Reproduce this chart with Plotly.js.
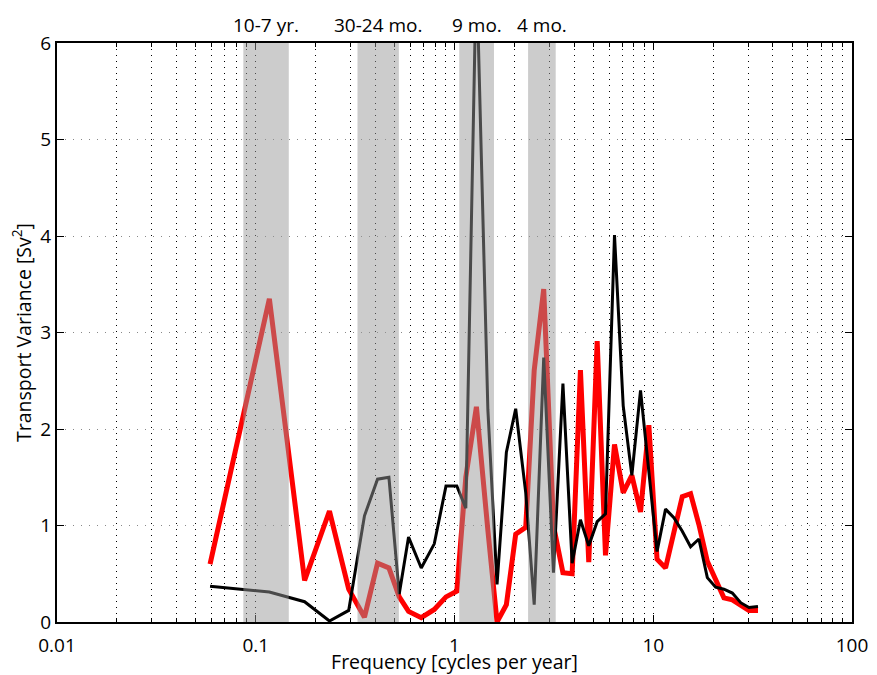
<!DOCTYPE html>
<html>
<head>
<meta charset="utf-8">
<script src="https://cdn.plot.ly/plotly-3.0.1.min.js"></script>
<style>html,body{margin:0;padding:0;background:#fff;}#chart{width:877px;height:675px;}</style>
</head>
<body>
<div id="chart"></div>
<script>
// Frequencies (cycles per year) and transport variance (Sv^2)
const freqBlack = [0.0589, 0.1171, 0.1761, 0.2349, 0.2935, 0.3524, 0.4100, 0.4677, 0.5271, 0.5873,
  0.6804, 0.7911, 0.9062, 1.027, 1.140, 1.289, 1.472, 1.637, 1.824, 2.032,
  2.282, 2.518, 2.811, 3.147, 3.512, 3.907, 4.302, 4.737, 5.222, 5.751,
  6.383, 7.062, 7.803, 8.630, 10.45, 11.53, 12.70, 14.00, 15.41, 16.97,
  18.71, 20.60, 22.68, 25.00, 27.54, 30.31, 33.65];
const varBlack = [0.37, 0.31, 0.21, 0.01, 0.12, 1.10, 1.48, 1.50, 0.29, 0.88,
  0.56, 0.81, 1.41, 1.41, 1.18, 6.8, 2.2, 0.39, 1.76, 2.21,
  1.34, 0.18, 2.74, 0.51, 2.47, 0.61, 1.06, 0.79, 1.04, 1.12,
  4.01, 2.24, 1.52, 2.40, 0.73, 1.17, 1.08, 0.94, 0.78, 0.86,
  0.46, 0.36, 0.34, 0.30, 0.20, 0.15, 0.16];

const freqRed = [0.0589, 0.1171, 0.1761, 0.2349, 0.2935, 0.3524, 0.4100, 0.4677, 0.5271, 0.5873,
  0.6804, 0.7911, 0.9062, 1.027, 1.140, 1.289, 1.472, 1.637, 1.824, 2.032,
  2.282, 2.518, 2.811, 3.147, 3.512, 3.907, 4.302, 4.737, 5.222, 5.751,
  6.383, 7.062, 7.803, 8.630, 9.502, 10.45, 11.53, 12.70, 14.00, 15.41,
  16.97, 18.71, 20.60, 22.68, 25.00, 27.54, 30.31, 33.65];
const varRed = [0.60, 3.35, 0.43, 1.15, 0.34, 0.05, 0.61, 0.56, 0.26, 0.11,
  0.045, 0.13, 0.26, 0.32, 1.5, 2.23, 0.95, 0.0, 0.18, 0.91,
  0.98, 2.61, 3.45, 1.0, 0.51, 0.50, 2.61, 0.62, 2.91, 0.69,
  1.84, 1.34, 1.52, 1.14, 2.04, 0.65, 0.56, 0.94, 1.30, 1.33,
  1.01, 0.63, 0.43, 0.25, 0.23, 0.17, 0.12, 0.12];

// Shaded period bands (cycles per year)
const bandLo = [0.0866, 0.325, 1.057, 2.345];
const bandHi = [0.1466, 0.525, 1.58, 3.23];
const bandLabels = ['10-7 yr.', '30-24 mo.', '9 mo.', '4 mo.'];

const xTickVals = [0.01, 0.1, 1, 10, 100];
const xTickText = ['0.01', '0.1', '1', '10', '100'];
const yTickVals = [0, 1, 2, 3, 4, 5, 6];

const FONT = 'Open Sans, Lato, sans-serif';
const FS = 19;

const traces = [
  {x: freqRed, y: varRed, type: 'scatter', mode: 'lines',
   line: {color: '#ff0000', width: 5}, hoverinfo: 'skip'},
  {x: freqBlack, y: varBlack, type: 'scatter', mode: 'lines',
   line: {color: '#000000', width: 3}, hoverinfo: 'skip'}
];

const shapes = bandLo.map((lo, i) => ({
  type: 'rect', xref: 'x', yref: 'paper', x0: lo, x1: bandHi[i], y0: 0, y1: 1,
  fillcolor: 'rgba(151,151,151,0.49)', line: {width: 0}, layer: 'above'
}));

const annotations = bandLabels.map((t, i) => ({
  text: t, xref: 'x', yref: 'paper',
  x: (Math.log10(bandLo[i]) + Math.log10(bandHi[i])) / 2, y: 1,
  yshift: 18, showarrow: false, xanchor: 'center', yanchor: 'middle',
  font: {family: FONT, size: FS, color: '#000'}
}));

const layout = {
  width: 877, height: 675,
  margin: {l: 57, r: 25, t: 43, b: 53},
  paper_bgcolor: '#fff', plot_bgcolor: '#fff',
  showlegend: false,
  font: {family: FONT, size: FS, color: '#000'},
  xaxis: {
    type: 'log', range: [-2, 2],
    tickvals: xTickVals, ticktext: xTickText,
    ticks: 'inside', ticklen: 7, tickwidth: 1, tickcolor: '#000',
    ticklabelstandoff: 5,
    showline: true, linecolor: '#000', linewidth: 2, mirror: 'ticks',
    showgrid: true, gridcolor: '#000', gridwidth: 1, griddash: '1px,5px',
    zeroline: false,
    tickfont: {family: FONT, size: FS, color: '#000'},
    title: {text: 'Frequency [cycles per year]', standoff: 0, font: {family: FONT, size: 19.5, color: '#000'}},
    minor: {dtick: 'D1', showgrid: true, gridcolor: '#000', gridwidth: 1, griddash: '1px,5px',
            ticks: 'inside', ticklen: 4, tickcolor: '#000', tickwidth: 1}
  },
  yaxis: {
    range: [0, 6], tickvals: yTickVals,
    ticks: 'inside', ticklen: 7, tickwidth: 1, tickcolor: '#000',
    showline: true, linecolor: '#000', linewidth: 2, mirror: 'ticks',
    showgrid: true, gridcolor: '#888', gridwidth: 1, griddash: '1px,7px',
    zeroline: false,
    tickfont: {family: FONT, size: FS, color: '#000'},
    title: {text: 'Transport Variance [Sv<sup>2</sup>]', standoff: 4, font: {family: FONT, size: 19.5, color: '#000'}}
  },
  shapes: shapes,
  annotations: annotations
};

Plotly.newPlot('chart', traces, layout, {staticPlot: true, displayModeBar: false});
</script>
</body>
</html>
